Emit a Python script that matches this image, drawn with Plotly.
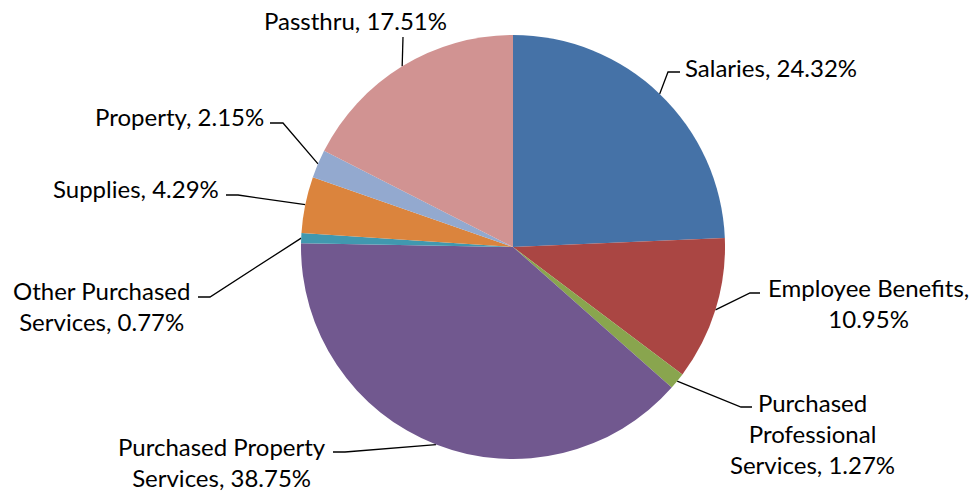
import plotly.graph_objects as go
import numpy as np

# data
categories = ["Salaries", "Employee Benefits", "Purchased Professional Services",
              "Purchased Property Services", "Other Purchased Services",
              "Supplies", "Property", "Passthru"]
shares = [24.32, 10.95, 1.27, 38.75, 0.77, 4.29, 2.15, 17.51]
colors = ["#4572A7", "#AA4643", "#89A54E", "#71588F",
          "#4198AF", "#DB843D", "#93A9CF", "#D19392"]

# how each label is wrapped (lines of the category name)
name_lines = {
    "Employee Benefits": ["Employee Benefits,"],
    "Purchased Professional Services": ["Purchased", "Professional", "Services,"],
    "Purchased Property Services": ["Purchased Property", "Services,"],
    "Other Purchased Services": ["Other Purchased", "Services,"],
}

W, H = 979, 492
CX, CY, R = 513, 247, 212   # pie centre / radius in pixels

# label placement (pixels): x, y, xanchor, elbow x, elbow y, line end x
label_pos = [
    (683, 67, "left", 668, 72, 680),
    (868, 303, "center", 750, 293, 760),
    (812, 433, "center", 741, 407, 752),
    (222, 462, "center", 345, 452, 333),
    (101, 306, "center", 210, 297, 198),
    (221, 188, "right", 238, 195, 226),
    (266, 116, "right", 283, 123, 270),
    (355, 20, "center", 403, 37, 403),
]


def label_text(name, v):
    if name in name_lines:
        lines = name_lines[name]
        if len(lines) > 1 and lines[-1].endswith(","):
            return "<br>".join(lines[:-1] + [f"{lines[-1]} {v:.2f}%"])
        return "<br>".join(lines + [f"{v:.2f}%"])
    return f"{name}, {v:.2f}%"


fig = go.Figure()

fig.add_trace(go.Pie(
    values=shares,
    labels=categories,
    marker=dict(colors=colors, line=dict(width=0)),
    sort=False,
    direction="clockwise",
    rotation=0,
    textinfo="none",
    hoverinfo="label+percent",
    showlegend=False,
    domain=dict(x=[(CX - R) / W, (CX + R) / W],
                y=[(H - CY - R) / H, (H - CY + R) / H]),
))

# leader lines from the middle of each slice edge
vals = np.array(shares)
mids = (np.cumsum(vals) - vals / 2) / vals.sum() * 2 * np.pi
lx, ly = [], []
for ang, (tx, ty, anc, ex, ey, endx) in zip(mids, label_pos):
    px = CX + R * np.sin(ang)
    py = CY - R * np.cos(ang)
    lx += [px, ex, endx, None]
    ly += [py, ey, ey, None]

fig.add_trace(go.Scatter(
    x=lx, y=ly, mode="lines",
    line=dict(color="black", width=1.3),
    hoverinfo="skip", showlegend=False,
))

for name, v, (tx, ty, anc, ex, ey, endx) in zip(categories, shares, label_pos):
    fig.add_annotation(
        x=tx, y=ty, xref="x", yref="y",
        text=label_text(name, v),
        xanchor=anc, yanchor="middle", align="center",
        showarrow=False,
        font=dict(family="Lato", size=24, color="black"),
    )

fig.update_layout(
    width=W, height=H,
    margin=dict(t=0, b=0, l=0, r=0),
    paper_bgcolor="white",
    plot_bgcolor="rgba(0,0,0,0)",
    xaxis=dict(range=[0, W], visible=False, fixedrange=True),
    yaxis=dict(range=[H, 0], visible=False, fixedrange=True),
)

# drop the default page margin so the figure sits at the window corner
fig.write_html("out.html", config={"displayModeBar": False},
               post_script="document.body.style.margin='0';")
